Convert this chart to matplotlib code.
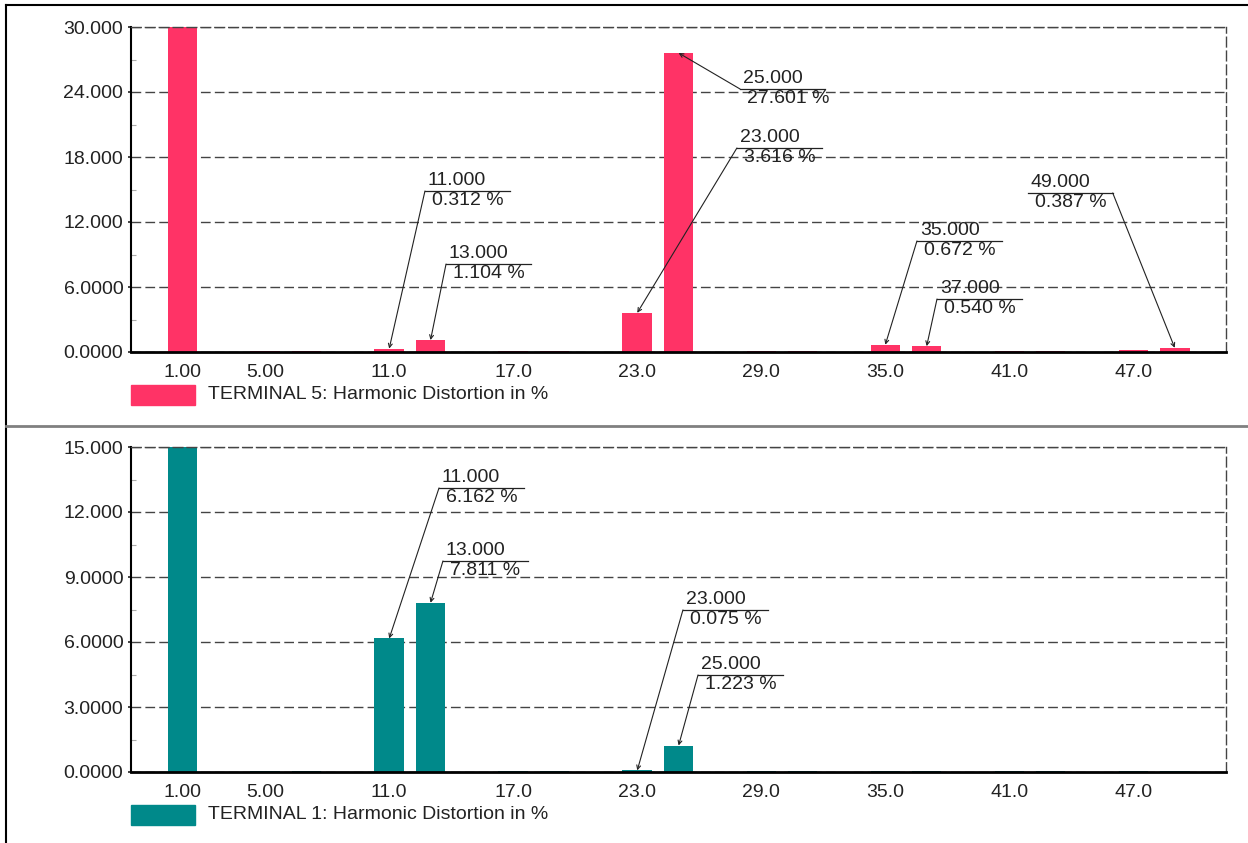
import numpy as np
import matplotlib
matplotlib.use("Agg")
import matplotlib.pyplot as plt
from matplotlib.patches import Rectangle
from matplotlib.ticker import FixedLocator, FuncFormatter

plt.rcParams['font.family'] = ['Liberation Sans', 'DejaVu Sans']

# harmonic orders (non-triplen) and distortion in % for both terminals
orders = [1, 5, 7, 11, 13, 17, 19, 23, 25, 29, 31, 35, 37, 41, 43, 47, 49]
term5_thd = [100.0, 0.10, 0.10, 0.312, 1.104, 0.08, 0.08, 3.616, 27.601,
             0.08, 0.08, 0.672, 0.540, 0.10, 0.10, 0.15, 0.387]
term1_thd = [100.0, 0.05, 0.05, 6.162, 7.811, 0.05, 0.05, 0.075, 1.223,
             0.05, 0.05, 0.06, 0.06, 0.05, 0.05, 0.06, 0.06]

term5_name = "TERMINAL 5: Harmonic Distortion in %"
term1_name = "TERMINAL 1: Harmonic Distortion in %"

x_ticks = [1, 5, 11, 17, 23, 29, 35, 41, 47]

# labelled harmonics: (order, label x, label y, leader from 'left' or 'right' end)
term5_labels = [(11, 12.73, 14.86, 'left'), (13, 13.75, 8.12, 'left'),
                (23, 27.82, 18.83, 'left'), (25, 27.97, 24.28, 'left'),
                (35, 36.53, 10.25, 'left'), (37, 37.50, 4.89, 'left'),
                (49, 41.90, 14.68, 'right')]
term1_labels = [(11, 13.41, 13.11, 'left'), (13, 13.60, 9.74, 'left'),
                (23, 25.21, 7.48, 'left'), (25, 25.94, 4.48, 'left')]

PINK = '#FF3366'
TEAL = '#00898A'
W, H = 1248, 843


def panel(fig, top_px, values, color, name, ymax, ystep, labels):
    ax = fig.add_axes([131 / W, 1 - (top_px + 325) / H, 1095 / W, 325 / H])
    ax.bar(orders, values, width=1.43, color=color, zorder=2)
    ax.set_xlim(-1.49, 51.48)
    ax.set_ylim(0, ymax)

    ax.xaxis.set_major_locator(FixedLocator(x_ticks))
    ax.xaxis.set_major_formatter(FuncFormatter(lambda v, p: '%#.3g' % v))
    ax.yaxis.set_major_locator(FixedLocator(np.arange(0, ymax + 0.1, ystep)))
    ax.yaxis.set_minor_locator(FixedLocator(np.arange(ystep / 2, ymax, ystep)))
    ax.yaxis.set_major_formatter(FuncFormatter(lambda v, p: '%#.5g' % v))
    ax.tick_params(axis='x', length=0, pad=8.5, labelsize=14, colors='#222222')
    ax.tick_params(axis='y', which='major', direction='out', length=2.5,
                   width=1.2, pad=3, labelsize=14, colors='#222222')
    ax.tick_params(axis='y', which='minor', direction='in', length=3.5,
                   width=0.8, color='#aaaaaa')

    ax.grid(axis='y', color='#444444', linestyle=(0, (7, 3)), lw=1.0, zorder=1)
    for s in ('top', 'right'):
        ax.spines[s].set_linestyle((0, (7, 3)))
        ax.spines[s].set_color('#444444')
        ax.spines[s].set_linewidth(1.0)
    ax.spines['left'].set_linewidth(1.5)
    ax.spines['bottom'].set_linewidth(2.0)
    ax.spines['bottom'].set_zorder(3)

    # value call-outs with a leader to the bar top
    line_len = 4.1
    for h, tx, ty, side in labels:
        v = values[orders.index(h)]
        ax.plot([tx, tx + line_len], [ty, ty], color='#222222', lw=0.9,
                clip_on=False, zorder=4)
        start = tx if side == 'left' else tx + line_len
        ax.annotate('', xy=(h, v), xytext=(start, ty),
                    arrowprops=dict(arrowstyle='->', lw=0.8, color='#222222',
                                    shrinkA=0, shrinkB=0, mutation_scale=7),
                    zorder=4)
        ax.annotate('%.3f' % h, xy=(tx, ty), xytext=(2, 1.5),
                    textcoords='offset points', ha='left', va='bottom',
                    fontsize=14, color='#222222')
        ax.annotate('%.3f %%' % v, xy=(tx, ty), xytext=(5, -1),
                    textcoords='offset points', ha='left', va='top',
                    fontsize=14, color='#222222')

    # legend swatch and series name below the axis
    ax.add_patch(Rectangle((0, -0.163), 0.0584, 0.0615, transform=ax.transAxes,
                           color=color, clip_on=False))
    ax.text(0.0703, -0.132, name, transform=ax.transAxes, ha='left',
            va='center', fontsize=14, color='#222222')
    return ax


fig = plt.figure(figsize=(W / 100, H / 100), dpi=100)

panel(fig, 27, term5_thd, PINK, term5_name, 30, 6, term5_labels)
panel(fig, 447, term1_thd, TEAL, term1_name, 15, 3, term1_labels)

# outer frame and panel separator
fig.add_artist(plt.Line2D([6 / W, 1], [1 - 5 / H, 1 - 5 / H], color='black', lw=1.5))
fig.add_artist(plt.Line2D([6 / W, 6 / W], [0, 1 - 5 / H], color='black', lw=1.5))
fig.add_artist(plt.Line2D([6 / W, 1], [1 - 426 / H, 1 - 426 / H], color='#808080', lw=2))

fig.savefig('out.png', dpi=100)
